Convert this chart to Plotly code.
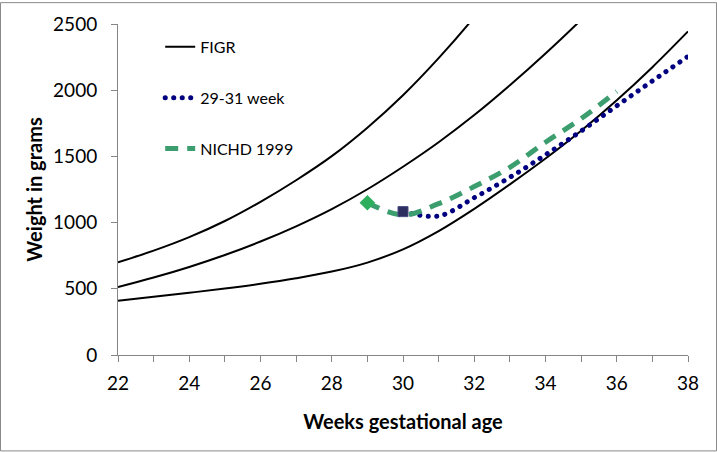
import plotly.graph_objects as go

# FIGR reference curves (weeks, grams)
figr_weeks = [22, 23, 24, 25, 26, 27, 28, 29, 30, 31, 32, 33, 34, 35, 36, 37, 38]
figr_low = [410, 440, 470, 502, 538, 580, 630, 698, 798, 936, 1104, 1289, 1484, 1694, 1924, 2174, 2444]
figr_mid = [513, 585, 665, 755, 857, 972, 1102, 1252, 1422, 1607, 1812, 2037, 2277, 2532, 2807, 3100, 3410]
figr_high = [700, 788, 890, 1012, 1157, 1320, 1502, 1717, 1962, 2242, 2552, 2900, 3270, 3660, 4070, 4500, 4950]

# 29-31 week cohort
cohort_weeks = [30, 31, 32, 33, 34, 35, 36, 37, 38]
cohort_vals = [1083, 1050, 1188, 1342, 1512, 1692, 1882, 2070, 2255]

# NICHD 1999
nichd_weeks = [29, 30, 31, 32, 33, 34, 35, 36]
nichd_vals = [1150, 1058, 1143, 1272, 1418, 1607, 1785, 1990]

x_ticks = [22, 24, 26, 28, 30, 32, 34, 36, 38]
y_ticks = [0, 500, 1000, 1500, 2000, 2500]

FONT = "Lato"
fig = go.Figure()

for i, ys in enumerate([figr_low, figr_mid, figr_high]):
    fig.add_trace(go.Scatter(
        x=figr_weeks, y=ys, mode="lines", name="FIGR",
        line=dict(color="black", width=2, shape="spline"),
        showlegend=(i == 0), legendgroup="g1",
    ))

fig.add_trace(go.Scatter(
    x=cohort_weeks, y=cohort_vals, mode="lines", name="29-31 week",
    line=dict(color="#000080", width=5, dash="3.5px,5px", shape="spline"),
    legendgroup="g2",
))
fig.add_trace(go.Scatter(
    x=nichd_weeks, y=nichd_vals, mode="lines", name="NICHD 1999",
    line=dict(color="#3C9E6E", width=5, dash="13px,9px", shape="spline"),
    legendgroup="g3",
))
# first-point markers
fig.add_trace(go.Scatter(
    x=cohort_weeks[:1], y=cohort_vals[:1], mode="markers", showlegend=False,
    marker=dict(symbol="square", size=10, color="#2E2E60", line=dict(color="#4A4A80", width=1)),
))
fig.add_trace(go.Scatter(
    x=nichd_weeks[:1], y=nichd_vals[:1], mode="markers", showlegend=False,
    marker=dict(symbol="diamond", size=12, color="#2EAF5E"),
))

W, H = 717, 452
L, R, T, B = 118, 29, 22, 97
pw, ph = W - L - R, H - T - B

fig.update_layout(
    width=W, height=H,
    margin=dict(l=L, r=R, t=T, b=B),
    plot_bgcolor="white", paper_bgcolor="white",
    font=dict(family=FONT, color="black"),
    showlegend=True,
    legend=dict(
        x=0.074, y=0.982, xanchor="left", yanchor="top",
        bgcolor="rgba(0,0,0,0)", font=dict(size=16, family=FONT),
        traceorder="grouped", tracegroupgap=27, itemwidth=30,
    ),
    xaxis=dict(
        range=[22, 38], tickvals=x_ticks, ticktext=[str(v) for v in x_ticks],
        showgrid=False, zeroline=False, showline=True, linecolor="#868686", linewidth=1,
        ticks="outside", ticklen=6, tickcolor="#868686", ticklabelstandoff=5,
        minor=dict(dtick=1, ticks="outside", ticklen=6, tickcolor="#868686"),
        tickfont=dict(size=19, family=FONT),
        title=dict(text="<b>Weeks gestational age</b>", font=dict(size=20, family=FONT), standoff=22),
    ),
    yaxis=dict(
        range=[0, 2500], tickvals=y_ticks,
        showgrid=False, zeroline=False, showline=True, linecolor="#868686", linewidth=1,
        ticks="outside", ticklen=6, tickcolor="#868686", ticklabelstandoff=10,
        tickfont=dict(size=19, family=FONT),
        title=dict(text="<b>Weight in grams</b>", font=dict(size=20, family=FONT), standoff=5),
    ),
    shapes=[dict(
        type="rect", xref="paper", yref="paper",
        x0=-(L - 0.5) / pw, x1=(W - 0.5 - L) / pw,
        y0=-(B - 0.5) / ph, y1=1 + (T - 0.5) / ph,
        line=dict(color="#8a8a8a", width=1), fillcolor="rgba(0,0,0,0)", layer="below",
    )],
)

post = """
document.body.style.margin='0';
var gd=document.getElementById('{plot_id}');
function fixDots(){
  gd.querySelectorAll('path.js-line').forEach(function(p){
    if((p.style.stroke||'').indexOf('0, 0, 128')>=0){
      p.style.strokeLinecap='round';
      p.style.strokeDasharray='0.1px,8.4px';
    }
  });
}
fixDots();
gd.on('plotly_afterplot', fixDots);
"""

fig.write_html("out.html", post_script=post, config={"displayModeBar": False})
